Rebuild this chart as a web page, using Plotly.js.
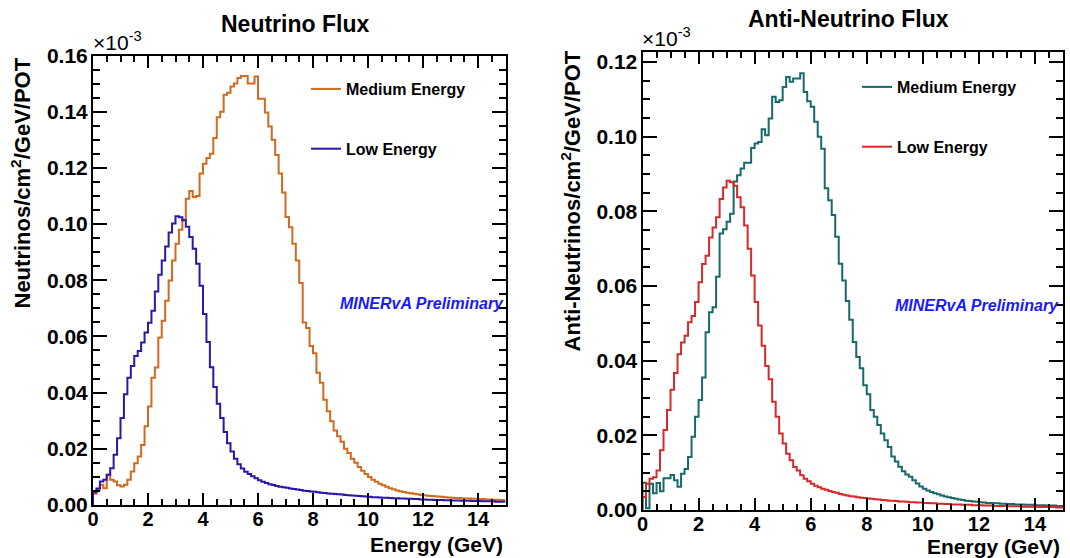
<!DOCTYPE html>
<html><head><meta charset="utf-8">
<script src="https://cdn.plot.ly/plotly-3.0.1.min.js"></script>
<style>html,body{margin:0;padding:0;background:#fff}#chart{width:1070px;height:558px}</style>
</head><body><div id="chart"></div>
<script>
// Histogram binning (GeV)
const binWidth = 0.125;
const energyMax = 15;

// Neutrino flux (units of 1e-3 neutrinos/cm^2/GeV/POT), bins of 0.125 GeV from 0 to 15 GeV
const nuMedium = [
0.0040,0.0054,0.0072,0.0060,0.0108,0.0090,0.0084,0.0070,0.0066,0.0072,
0.0090,0.0119,0.0149,0.0173,0.0214,0.0280,0.0351,0.0453,0.0489,0.0596,
0.0656,0.0727,0.0799,0.0870,0.0930,0.0980,0.1015,0.1090,0.1118,0.1096,
0.1100,0.1180,0.1215,0.1235,0.1250,0.1306,0.1380,0.1400,0.1460,0.1467,
0.1490,0.1500,0.1520,0.1527,0.1527,0.1500,0.1500,0.1525,0.1446,0.1446,
0.1397,0.1347,0.1300,0.1246,0.1180,0.1112,0.1025,0.0989,0.0930,0.0870,
0.0790,0.0650,0.0630,0.0566,0.0540,0.0471,0.0435,0.0375,0.0334,0.0298,
0.0265,0.0245,0.0225,0.0200,0.0185,0.0165,0.0150,0.0135,0.0122,0.0110,
0.0100,0.0090,0.0083,0.0076,0.0070,0.0065,0.0060,0.0056,0.0052,0.0049,
0.0046,0.0044,0.0042,0.0040,0.0038,0.0036,0.0035,0.0033,0.0032,0.0031,
0.0030,0.0029,0.0028,0.0027,0.0026,0.0025,0.0025,0.0024,0.0023,0.0023,
0.0022,0.0022,0.0021,0.0021,0.0020,0.0020,0.0019,0.0019,0.0018,0.0018];

const nuLow = [
0.0045,0.0059,0.0084,0.0090,0.0108,0.0131,0.0179,0.0238,0.0310,0.0394,
0.0453,0.0495,0.0530,0.0548,0.0578,0.0614,0.0649,0.0691,0.0760,0.0820,
0.0870,0.0920,0.0970,0.1002,0.1028,0.1024,0.1014,0.0990,0.0954,0.0912,
0.0859,0.0780,0.0680,0.0580,0.0490,0.0420,0.0360,0.0310,0.0260,0.0220,
0.0190,0.0165,0.0145,0.0130,0.0118,0.0110,0.0102,0.0095,0.0088,0.0083,
0.0078,0.0074,0.0071,0.0068,0.0065,0.0063,0.0061,0.0059,0.0057,0.0055,
0.0053,0.0051,0.0050,0.0048,0.0047,0.0045,0.0044,0.0043,0.0041,0.0040,
0.0039,0.0038,0.0037,0.0036,0.0035,0.0034,0.0033,0.0032,0.0031,0.0030,
0.0029,0.0028,0.0028,0.0027,0.0026,0.0026,0.0025,0.0024,0.0024,0.0023,
0.0023,0.0022,0.0022,0.0021,0.0021,0.0020,0.0020,0.0019,0.0019,0.0018,
0.0018,0.0018,0.0017,0.0017,0.0016,0.0016,0.0016,0.0015,0.0015,0.0015,
0.0014,0.0014,0.0014,0.0013,0.0013,0.0013,0.0013,0.0012,0.0012,0.0012];

// Anti-neutrino flux
const antiMedium = [
0.0073,0.0005,0.0070,0.0045,0.0072,0.0050,0.0085,0.0085,0.0094,0.0080,
0.0062,0.0097,0.0110,0.0142,0.0196,0.0250,0.0295,0.0355,0.0476,0.0530,
0.0543,0.0625,0.0741,0.0752,0.0772,0.0794,0.0880,0.0897,0.0915,0.0930,
0.0930,0.0970,0.0982,0.0986,0.1020,0.1004,0.1049,0.1107,0.1093,0.1098,
0.1133,0.1160,0.1147,0.1156,0.1156,0.1170,0.1120,0.1095,0.1080,0.1040,
0.1000,0.0968,0.0862,0.0830,0.0790,0.0732,0.0660,0.0615,0.0560,0.0510,
0.0450,0.0410,0.0380,0.0334,0.0310,0.0268,0.0250,0.0228,0.0205,0.0187,
0.0169,0.0143,0.0130,0.0116,0.0104,0.0095,0.0089,0.0080,0.0071,0.0063,
0.0057,0.0052,0.0048,0.0045,0.0042,0.0039,0.0036,0.0034,0.0032,0.0030,
0.0028,0.0027,0.0025,0.0024,0.0023,0.0022,0.0021,0.0020,0.0019,0.0019,
0.0018,0.0018,0.0017,0.0017,0.0016,0.0016,0.0015,0.0015,0.0015,0.0014,
0.0014,0.0014,0.0013,0.0013,0.0013,0.0012,0.0012,0.0012,0.0011,0.0011];

const antiLow = [
0.0035,0.0070,0.0084,0.0088,0.0106,0.0160,0.0214,0.0268,0.0322,0.0367,
0.0417,0.0449,0.0467,0.0503,0.0520,0.0557,0.0610,0.0659,0.0681,0.0730,
0.0757,0.0784,0.0833,0.0864,0.0882,0.0878,0.0869,0.0838,0.0811,0.0762,
0.0700,0.0628,0.0557,0.0494,0.0440,0.0386,0.0350,0.0290,0.0250,0.0205,
0.0178,0.0151,0.0133,0.0115,0.0106,0.0093,0.0084,0.0077,0.0070,0.0065,
0.0061,0.0057,0.0054,0.0051,0.0048,0.0046,0.0043,0.0041,0.0039,0.0037,
0.0036,0.0034,0.0033,0.0032,0.0031,0.0030,0.0029,0.0028,0.0027,0.0026,
0.0025,0.0025,0.0024,0.0023,0.0023,0.0022,0.0021,0.0021,0.0020,0.0020,
0.0019,0.0019,0.0018,0.0018,0.0017,0.0017,0.0016,0.0016,0.0015,0.0015,
0.0015,0.0014,0.0014,0.0014,0.0013,0.0013,0.0013,0.0012,0.0012,0.0012,
0.0011,0.0011,0.0011,0.0011,0.0010,0.0010,0.0010,0.0010,0.0009,0.0009,
0.0009,0.0009,0.0009,0.0008,0.0008,0.0008,0.0008,0.0008,0.0007,0.0007];

const seriesNames = ['Medium Energy', 'Low Energy'];
const panelTitles = ['Neutrino Flux', 'Anti-Neutrino Flux'];
const yTitles = ['Neutrinos/cm<sup>2</sup>/GeV/POT', 'Anti-Neutrinos/cm<sup>2</sup>/GeV/POT'];
const xTitle = 'Energy (GeV)';
const scaleLabel = '\u00d710<sup>-3</sup>';
const stampText = '<i>MINERvA Preliminary</i>';

// histogram step outline helpers (bin edges from bin width)
function stepX(vals){ const x=[0]; for(let i=0;i<vals.length;i++) x.push(i*binWidth); x.push(vals.length*binWidth); return x; }
function stepY(vals){ return [0].concat(vals,[vals[vals.length-1]]); }

const FONT = 'Liberation Sans, Arial, Helvetica, sans-serif';
const W = 1070, H = 558;
const px = v => v / W;
const py = v => (H - v) / H;

function trace(vals, name, color, xa, ya, legend, group){
  return {type:'scatter', mode:'lines', x: stepX(vals), y: stepY(vals), name,
    line:{color, width:2, shape:'hv'}, xaxis:xa, yaxis:ya, legend, legendgroup:group,
    hoverinfo:'skip'};
}

const data = [
  trace(nuMedium, seriesNames[0], '#d2691e', 'x', 'y', 'legend', 'me'),
  trace(nuLow, seriesNames[1], '#2a18a8', 'x', 'y', 'legend', 'le'),
  trace(antiMedium, seriesNames[0], '#17696a', 'x2', 'y2', 'legend2', 'me'),
  trace(antiLow, seriesNames[1], '#d42a2a', 'x2', 'y2', 'legend2', 'le')
];

function xAxis(domain, anchor){
  return {domain, anchor, range:[0, energyMax], tickmode:'linear', tick0:0, dtick:2,
    ticks:'inside', ticklen:12, tickwidth:2, tickcolor:'#000', mirror:'allticks',
    showline:true, linewidth:2, linecolor:'#000', showgrid:false, zeroline:false,
    ticklabelstandoff:-5,
    tickfont:{family:FONT, size:20, weight:'bold', color:'#000'},
    minor:{dtick:0.5, ticks:'inside', ticklen:6, tickwidth:2, tickcolor:'#000', showgrid:false},
    fixedrange:true};
}
function yAxis(domain, anchor, top){
  return {domain, anchor, range:[0, top], tickmode:'linear', tick0:0, dtick:0.02, tickformat:'.2f',
    ticks:'inside', ticklen:14, tickwidth:2, tickcolor:'#000', mirror:'allticks',
    showline:true, linewidth:2, linecolor:'#000', showgrid:false, zeroline:false,
    ticklabelstandoff:-1,
    tickfont:{family:FONT, size:21, weight:'bold', color:'#000'},
    minor:{dtick:0.005, ticks:'inside', ticklen:7, tickwidth:2, tickcolor:'#000', showgrid:false},
    fixedrange:true};
}

function ann(text, x, y, xanchor, yanchor, size, extra){
  return Object.assign({text, x, y, xref:'paper', yref:'paper', xanchor, yanchor, showarrow:false,
    font:{family:FONT, size, color:'#000', weight:'bold'}}, extra||{});
}

const annotations = [
  ann(panelTitles[0], px(295), py(23.5), 'center', 'middle', 23),
  ann(panelTitles[1], px(848), py(19.5), 'center', 'middle', 23),
  ann(yTitles[0], px(21), py(56), 'center', 'top', 22, {textangle:-90}),
  ann(yTitles[1], px(570), py(49), 'center', 'top', 22, {textangle:-90}),
  ann(xTitle, px(505), py(544), 'right', 'middle', 21),
  ann(xTitle, px(1062), py(546), 'right', 'middle', 21),
  ann(scaleLabel, px(91), py(56), 'left', 'bottom', 21, {font:{family:FONT,size:21,color:'#000',weight:'normal'}}),
  ann(scaleLabel, px(640), py(52), 'left', 'bottom', 21, {font:{family:FONT,size:21,color:'#000',weight:'normal'}}),
  ann(stampText, px(506), py(303.5), 'right', 'middle', 16, {font:{family:FONT,size:16,color:'#1a1aff',weight:'bold'}}),
  ann(stampText, px(1061), py(305), 'right', 'middle', 16, {font:{family:FONT,size:16,color:'#1a1aff',weight:'bold'}})
];

function legendCfg(x, y){
  return {x, y, xanchor:'left', yanchor:'top', bgcolor:'rgba(0,0,0,0)', borderwidth:0,
    font:{family:FONT, size:16, weight:'bold', color:'#000'}, traceorder:'grouped', tracegroupgap:36,
    itemclick:false, itemdoubleclick:false};
}

const layout = {
  width:W, height:H, margin:{l:0, r:0, t:0, b:0}, paper_bgcolor:'#fff', plot_bgcolor:'#fff',
  showlegend:true,
  xaxis: xAxis([px(93), px(505.5)], 'y'),
  yaxis: yAxis([py(505), py(55.5)], 'x', 0.16),
  xaxis2: xAxis([px(642.5), px(1063)], 'y2'),
  yaxis2: yAxis([py(510), py(52)], 'x2', 0.1227),
  legend: legendCfg(px(306), py(72)),
  legend2: legendCfg(px(857), py(70)),
  annotations
};

Plotly.newPlot('chart', data, layout, {displayModeBar:false, staticPlot:true});
</script>
</body></html>
